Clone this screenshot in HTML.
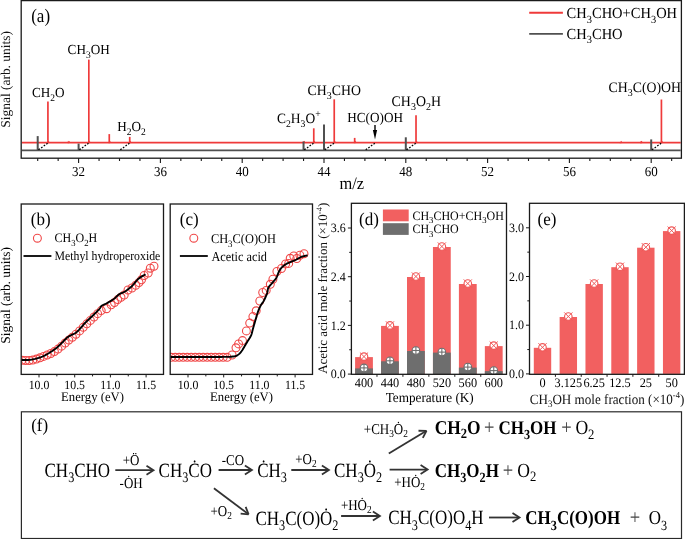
<!DOCTYPE html>
<html><head><meta charset="utf-8"><title>Figure</title>
<style>html,body{margin:0;padding:0;background:#fff;width:685px;height:539px;overflow:hidden}svg{display:block;will-change:transform;font-family:"Liberation Serif",serif;text-rendering:geometricPrecision}</style>
</head><body>
<svg width="685" height="539" viewBox="0 0 685 539" font-family="Liberation Serif, serif"><line x1="21.90" y1="142.70" x2="680.70" y2="142.70" stroke="#ef3a3a" stroke-width="1.8" />
<line x1="47.92" y1="143.20" x2="47.92" y2="101.40" stroke="#ef3a3a" stroke-width="1.7" />
<path d="M47.42,142.70 L48.42,140.70 L49.72,142.20 L50.72,142.70 Z" fill="#ef3a3a"/>
<line x1="68.38" y1="143.20" x2="68.38" y2="141.60" stroke="#ef3a3a" stroke-width="1.7" />
<path d="M67.88,142.70 L68.88,140.70 L70.17,142.20 L71.17,142.70 Z" fill="#ef3a3a"/>
<line x1="88.82" y1="143.20" x2="88.82" y2="59.60" stroke="#ef3a3a" stroke-width="1.7" />
<path d="M88.32,142.70 L89.32,140.70 L90.62,142.20 L91.62,142.70 Z" fill="#ef3a3a"/>
<line x1="109.27" y1="143.20" x2="109.27" y2="134.10" stroke="#ef3a3a" stroke-width="1.7" />
<path d="M108.77,142.70 L109.77,140.70 L111.07,142.20 L112.07,142.70 Z" fill="#ef3a3a"/>
<line x1="129.72" y1="143.20" x2="129.72" y2="136.90" stroke="#ef3a3a" stroke-width="1.7" />
<path d="M129.22,142.70 L130.22,140.70 L131.53,142.20 L132.53,142.70 Z" fill="#ef3a3a"/>
<line x1="303.55" y1="143.20" x2="303.55" y2="141.60" stroke="#ef3a3a" stroke-width="1.7" />
<path d="M303.05,142.70 L304.05,140.70 L305.35,142.20 L306.35,142.70 Z" fill="#ef3a3a"/>
<line x1="313.77" y1="143.20" x2="313.77" y2="128.30" stroke="#ef3a3a" stroke-width="1.7" />
<path d="M313.27,142.70 L314.27,140.70 L315.57,142.20 L316.57,142.70 Z" fill="#ef3a3a"/>
<line x1="334.23" y1="143.20" x2="334.23" y2="99.30" stroke="#ef3a3a" stroke-width="1.7" />
<path d="M333.73,142.70 L334.73,140.70 L336.03,142.20 L337.03,142.70 Z" fill="#ef3a3a"/>
<line x1="354.67" y1="143.20" x2="354.67" y2="137.90" stroke="#ef3a3a" stroke-width="1.7" />
<path d="M354.17,142.70 L355.17,140.70 L356.47,142.20 L357.47,142.70 Z" fill="#ef3a3a"/>
<line x1="416.02" y1="143.20" x2="416.02" y2="115.20" stroke="#ef3a3a" stroke-width="1.7" />
<path d="M415.52,142.70 L416.52,140.70 L417.82,142.20 L418.82,142.70 Z" fill="#ef3a3a"/>
<line x1="620.52" y1="143.20" x2="620.52" y2="142.00" stroke="#ef3a3a" stroke-width="1.7" />
<path d="M620.02,142.70 L621.02,140.70 L622.32,142.20 L623.32,142.70 Z" fill="#ef3a3a"/>
<line x1="640.98" y1="143.20" x2="640.98" y2="141.40" stroke="#ef3a3a" stroke-width="1.7" />
<path d="M640.48,142.70 L641.48,140.70 L642.77,142.20 L643.77,142.70 Z" fill="#ef3a3a"/>
<line x1="661.42" y1="143.20" x2="661.42" y2="99.50" stroke="#ef3a3a" stroke-width="1.7" />
<path d="M660.92,142.70 L661.92,140.70 L663.22,142.20 L664.22,142.70 Z" fill="#ef3a3a"/>
<line x1="21.90" y1="150.40" x2="680.70" y2="150.40" stroke="#505050" stroke-width="1.7" />
<line x1="37.70" y1="150.90" x2="37.70" y2="136.10" stroke="#505050" stroke-width="2.0" />
<path d="M37.20,150.40 L38.20,148.40 L39.50,149.90 L40.50,150.40 Z" fill="#505050"/>
<line x1="78.60" y1="150.90" x2="78.60" y2="143.60" stroke="#505050" stroke-width="2.0" />
<path d="M78.10,150.40 L79.10,148.40 L80.40,149.90 L81.40,150.40 Z" fill="#505050"/>
<line x1="303.55" y1="150.90" x2="303.55" y2="141.60" stroke="#505050" stroke-width="2.0" />
<path d="M303.05,150.40 L304.05,148.40 L305.35,149.90 L306.35,150.40 Z" fill="#505050"/>
<line x1="324.00" y1="150.90" x2="324.00" y2="124.40" stroke="#505050" stroke-width="2.0" />
<path d="M323.50,150.40 L324.50,148.40 L325.80,149.90 L326.80,150.40 Z" fill="#505050"/>
<line x1="405.80" y1="150.90" x2="405.80" y2="137.30" stroke="#505050" stroke-width="2.0" />
<path d="M405.30,150.40 L406.30,148.40 L407.60,149.90 L408.60,150.40 Z" fill="#505050"/>
<line x1="651.20" y1="150.90" x2="651.20" y2="139.40" stroke="#505050" stroke-width="2.0" />
<path d="M650.70,150.40 L651.70,148.40 L653.00,149.90 L654.00,150.40 Z" fill="#505050"/>
<line x1="38.50" y1="149.80" x2="47.62" y2="143.30" stroke="#000" stroke-width="1.25" stroke-dasharray="1.7,1.5"/>
<line x1="79.40" y1="149.80" x2="88.52" y2="143.30" stroke="#000" stroke-width="1.25" stroke-dasharray="1.7,1.5"/>
<line x1="120.30" y1="149.80" x2="129.42" y2="143.30" stroke="#000" stroke-width="1.25" stroke-dasharray="1.7,1.5"/>
<line x1="304.35" y1="149.80" x2="313.47" y2="143.30" stroke="#000" stroke-width="1.25" stroke-dasharray="1.7,1.5"/>
<line x1="324.80" y1="149.80" x2="333.93" y2="143.30" stroke="#000" stroke-width="1.25" stroke-dasharray="1.7,1.5"/>
<line x1="365.70" y1="149.80" x2="374.82" y2="143.30" stroke="#000" stroke-width="1.25" stroke-dasharray="1.7,1.5"/>
<line x1="406.60" y1="149.80" x2="415.72" y2="143.30" stroke="#000" stroke-width="1.25" stroke-dasharray="1.7,1.5"/>
<line x1="652.00" y1="149.80" x2="661.12" y2="143.30" stroke="#000" stroke-width="1.25" stroke-dasharray="1.7,1.5"/>
<rect x="21.20" y="0.60" width="660.20" height="157.60" fill="none" stroke="#1a1a1a" stroke-width="1.3"/>
<line x1="37.70" y1="158.20" x2="37.70" y2="161.00" stroke="#1a1a1a" stroke-width="1.1" />
<line x1="58.15" y1="158.20" x2="58.15" y2="161.00" stroke="#1a1a1a" stroke-width="1.1" />
<line x1="78.60" y1="158.20" x2="78.60" y2="163.00" stroke="#1a1a1a" stroke-width="1.1" />
<line x1="99.05" y1="158.20" x2="99.05" y2="161.00" stroke="#1a1a1a" stroke-width="1.1" />
<line x1="119.50" y1="158.20" x2="119.50" y2="161.00" stroke="#1a1a1a" stroke-width="1.1" />
<line x1="139.95" y1="158.20" x2="139.95" y2="161.00" stroke="#1a1a1a" stroke-width="1.1" />
<line x1="160.40" y1="158.20" x2="160.40" y2="163.00" stroke="#1a1a1a" stroke-width="1.1" />
<line x1="180.85" y1="158.20" x2="180.85" y2="161.00" stroke="#1a1a1a" stroke-width="1.1" />
<line x1="201.30" y1="158.20" x2="201.30" y2="161.00" stroke="#1a1a1a" stroke-width="1.1" />
<line x1="221.75" y1="158.20" x2="221.75" y2="161.00" stroke="#1a1a1a" stroke-width="1.1" />
<line x1="242.20" y1="158.20" x2="242.20" y2="163.00" stroke="#1a1a1a" stroke-width="1.1" />
<line x1="262.65" y1="158.20" x2="262.65" y2="161.00" stroke="#1a1a1a" stroke-width="1.1" />
<line x1="283.10" y1="158.20" x2="283.10" y2="161.00" stroke="#1a1a1a" stroke-width="1.1" />
<line x1="303.55" y1="158.20" x2="303.55" y2="161.00" stroke="#1a1a1a" stroke-width="1.1" />
<line x1="324.00" y1="158.20" x2="324.00" y2="163.00" stroke="#1a1a1a" stroke-width="1.1" />
<line x1="344.45" y1="158.20" x2="344.45" y2="161.00" stroke="#1a1a1a" stroke-width="1.1" />
<line x1="364.90" y1="158.20" x2="364.90" y2="161.00" stroke="#1a1a1a" stroke-width="1.1" />
<line x1="385.35" y1="158.20" x2="385.35" y2="161.00" stroke="#1a1a1a" stroke-width="1.1" />
<line x1="405.80" y1="158.20" x2="405.80" y2="163.00" stroke="#1a1a1a" stroke-width="1.1" />
<line x1="426.25" y1="158.20" x2="426.25" y2="161.00" stroke="#1a1a1a" stroke-width="1.1" />
<line x1="446.70" y1="158.20" x2="446.70" y2="161.00" stroke="#1a1a1a" stroke-width="1.1" />
<line x1="467.15" y1="158.20" x2="467.15" y2="161.00" stroke="#1a1a1a" stroke-width="1.1" />
<line x1="487.60" y1="158.20" x2="487.60" y2="163.00" stroke="#1a1a1a" stroke-width="1.1" />
<line x1="508.05" y1="158.20" x2="508.05" y2="161.00" stroke="#1a1a1a" stroke-width="1.1" />
<line x1="528.50" y1="158.20" x2="528.50" y2="161.00" stroke="#1a1a1a" stroke-width="1.1" />
<line x1="548.95" y1="158.20" x2="548.95" y2="161.00" stroke="#1a1a1a" stroke-width="1.1" />
<line x1="569.40" y1="158.20" x2="569.40" y2="163.00" stroke="#1a1a1a" stroke-width="1.1" />
<line x1="589.85" y1="158.20" x2="589.85" y2="161.00" stroke="#1a1a1a" stroke-width="1.1" />
<line x1="610.30" y1="158.20" x2="610.30" y2="161.00" stroke="#1a1a1a" stroke-width="1.1" />
<line x1="630.75" y1="158.20" x2="630.75" y2="161.00" stroke="#1a1a1a" stroke-width="1.1" />
<line x1="651.20" y1="158.20" x2="651.20" y2="163.00" stroke="#1a1a1a" stroke-width="1.1" />
<line x1="671.65" y1="158.20" x2="671.65" y2="161.00" stroke="#1a1a1a" stroke-width="1.1" />
<text transform="translate(78.60,175.80) scale(1.0,1.06)" font-size="13" font-weight="normal" text-anchor="middle" fill="#000" ><tspan>32</tspan></text>
<text transform="translate(160.40,175.80) scale(1.0,1.06)" font-size="13" font-weight="normal" text-anchor="middle" fill="#000" ><tspan>36</tspan></text>
<text transform="translate(242.20,175.80) scale(1.0,1.06)" font-size="13" font-weight="normal" text-anchor="middle" fill="#000" ><tspan>40</tspan></text>
<text transform="translate(324.00,175.80) scale(1.0,1.06)" font-size="13" font-weight="normal" text-anchor="middle" fill="#000" ><tspan>44</tspan></text>
<text transform="translate(405.80,175.80) scale(1.0,1.06)" font-size="13" font-weight="normal" text-anchor="middle" fill="#000" ><tspan>48</tspan></text>
<text transform="translate(487.60,175.80) scale(1.0,1.06)" font-size="13" font-weight="normal" text-anchor="middle" fill="#000" ><tspan>52</tspan></text>
<text transform="translate(569.40,175.80) scale(1.0,1.06)" font-size="13" font-weight="normal" text-anchor="middle" fill="#000" ><tspan>56</tspan></text>
<text transform="translate(651.20,175.80) scale(1.0,1.06)" font-size="13" font-weight="normal" text-anchor="middle" fill="#000" ><tspan>60</tspan></text>
<text transform="translate(351.80,188.50) scale(1.0,1.06)" font-size="16.4" font-weight="normal" text-anchor="middle" fill="#000" ><tspan>m/z</tspan></text>
<text transform="translate(10.0,79.4) rotate(-90)" font-size="13.45" text-anchor="middle" fill="#111">Signal (arb. units)</text>
<text transform="translate(31.20,22.40) scale(1.0,1.12)" font-size="17" font-weight="normal" text-anchor="start" fill="#000" ><tspan>(a)</tspan></text>
<line x1="529.20" y1="12.80" x2="562.90" y2="12.80" stroke="#ef3a3a" stroke-width="1.9" />
<line x1="529.20" y1="33.85" x2="562.90" y2="33.85" stroke="#505050" stroke-width="1.9" />
<text transform="translate(566.60,18.20) scale(1.0,1.06)" font-size="14.5" font-weight="normal" text-anchor="start" fill="#000" ><tspan>CH</tspan><tspan dy="4.06" font-size="10.44">3</tspan><tspan dy="-4.06">CHO+CH</tspan><tspan dy="4.06" font-size="10.44">3</tspan><tspan dy="-4.06">OH</tspan></text>
<text transform="translate(566.60,39.10) scale(1.0,1.06)" font-size="14.5" font-weight="normal" text-anchor="start" fill="#000" ><tspan>CH</tspan><tspan dy="4.06" font-size="10.44">3</tspan><tspan dy="-4.06">CHO</tspan></text>
<text transform="translate(32.00,97.00) scale(1.0,1.05)" font-size="13.2" font-weight="normal" text-anchor="start" fill="#000" ><tspan>CH</tspan><tspan dy="3.70" font-size="9.50">2</tspan><tspan dy="-3.70">O</tspan></text>
<text transform="translate(67.60,54.30) scale(1.0,1.05)" font-size="13.2" font-weight="normal" text-anchor="start" fill="#000" ><tspan>CH</tspan><tspan dy="3.70" font-size="9.50">3</tspan><tspan dy="-3.70">OH</tspan></text>
<text transform="translate(117.20,131.00) scale(1.0,1.05)" font-size="13.2" font-weight="normal" text-anchor="start" fill="#000" ><tspan>H</tspan><tspan dy="3.70" font-size="9.50">2</tspan><tspan dy="-3.70">O</tspan><tspan dy="3.70" font-size="9.50">2</tspan></text>
<text transform="translate(276.90,122.80) scale(1.0,1.05)" font-size="13.5" font-weight="normal" text-anchor="start" fill="#000" ><tspan>C</tspan><tspan dy="3.78" font-size="9.72">2</tspan><tspan dy="-3.78">H</tspan><tspan dy="3.78" font-size="9.72">3</tspan><tspan dy="-3.78">O</tspan><tspan dy="-5.67" font-size="9.72">+</tspan></text>
<text transform="translate(307.60,94.50) scale(1.0,1.05)" font-size="13.8" font-weight="normal" text-anchor="start" fill="#000" ><tspan>CH</tspan><tspan dy="3.86" font-size="9.94">3</tspan><tspan dy="-3.86">CHO</tspan></text>
<text transform="translate(347.30,121.70) scale(1.0,1.05)" font-size="13.2" font-weight="normal" text-anchor="start" fill="#000" ><tspan>HC(O)OH</tspan></text>
<text transform="translate(391.60,105.70) scale(1.0,1.05)" font-size="13.9" font-weight="normal" text-anchor="start" fill="#000" ><tspan>CH</tspan><tspan dy="3.89" font-size="10.01">3</tspan><tspan dy="-3.89">O</tspan><tspan dy="3.89" font-size="10.01">2</tspan><tspan dy="-3.89">H</tspan></text>
<text transform="translate(608.60,91.60) scale(1.0,1.05)" font-size="13.8" font-weight="normal" text-anchor="start" fill="#000" ><tspan>CH</tspan><tspan dy="3.86" font-size="9.94">3</tspan><tspan dy="-3.86">C(O)OH</tspan></text>
<line x1="375.00" y1="124.90" x2="375.00" y2="131.00" stroke="#000" stroke-width="1.4" />
<path d="M372.9,130 L377.1,130 L375,139.6 Z" fill="#000"/>
<clipPath id="clp1"><rect x="21.20" y="204.00" width="142.30" height="170.40"/></clipPath>
<g clip-path="url(#clp1)">
<circle cx="22.00" cy="360.30" r="3.95" fill="none" stroke="#f04848" stroke-width="1.1"/>
<circle cx="25.60" cy="360.45" r="3.95" fill="none" stroke="#f04848" stroke-width="1.1"/>
<circle cx="29.20" cy="360.47" r="3.95" fill="none" stroke="#f04848" stroke-width="1.1"/>
<circle cx="32.80" cy="360.04" r="3.95" fill="none" stroke="#f04848" stroke-width="1.1"/>
<circle cx="36.40" cy="359.07" r="3.95" fill="none" stroke="#f04848" stroke-width="1.1"/>
<circle cx="40.00" cy="357.81" r="3.95" fill="none" stroke="#f04848" stroke-width="1.1"/>
<circle cx="43.60" cy="356.42" r="3.95" fill="none" stroke="#f04848" stroke-width="1.1"/>
<circle cx="47.20" cy="355.02" r="3.95" fill="none" stroke="#f04848" stroke-width="1.1"/>
<circle cx="50.80" cy="353.48" r="3.95" fill="none" stroke="#f04848" stroke-width="1.1"/>
<circle cx="54.40" cy="351.56" r="3.95" fill="none" stroke="#f04848" stroke-width="1.1"/>
<circle cx="58.00" cy="349.07" r="3.95" fill="none" stroke="#f04848" stroke-width="1.1"/>
<circle cx="61.60" cy="346.13" r="3.95" fill="none" stroke="#f04848" stroke-width="1.1"/>
<circle cx="65.20" cy="343.05" r="3.95" fill="none" stroke="#f04848" stroke-width="1.1"/>
<circle cx="68.80" cy="340.11" r="3.95" fill="none" stroke="#f04848" stroke-width="1.1"/>
<circle cx="72.40" cy="337.22" r="3.95" fill="none" stroke="#f04848" stroke-width="1.1"/>
<circle cx="76.00" cy="334.21" r="3.95" fill="none" stroke="#f04848" stroke-width="1.1"/>
<circle cx="79.60" cy="330.91" r="3.95" fill="none" stroke="#f04848" stroke-width="1.1"/>
<circle cx="83.20" cy="327.36" r="3.95" fill="none" stroke="#f04848" stroke-width="1.1"/>
<circle cx="86.80" cy="323.87" r="3.95" fill="none" stroke="#f04848" stroke-width="1.1"/>
<circle cx="90.40" cy="320.42" r="3.95" fill="none" stroke="#f04848" stroke-width="1.1"/>
<circle cx="94.00" cy="317.04" r="3.95" fill="none" stroke="#f04848" stroke-width="1.1"/>
<circle cx="97.60" cy="313.65" r="3.95" fill="none" stroke="#f04848" stroke-width="1.1"/>
<circle cx="101.20" cy="310.56" r="3.95" fill="none" stroke="#f04848" stroke-width="1.1"/>
<circle cx="106.60" cy="308.70" r="3.95" fill="none" stroke="#f04848" stroke-width="1.1"/>
<circle cx="111.20" cy="304.80" r="3.95" fill="none" stroke="#f04848" stroke-width="1.1"/>
<circle cx="114.50" cy="302.50" r="3.95" fill="none" stroke="#f04848" stroke-width="1.1"/>
<circle cx="117.70" cy="299.60" r="3.95" fill="none" stroke="#f04848" stroke-width="1.1"/>
<circle cx="121.00" cy="297.30" r="3.95" fill="none" stroke="#f04848" stroke-width="1.1"/>
<circle cx="124.20" cy="295.00" r="3.95" fill="none" stroke="#f04848" stroke-width="1.1"/>
<circle cx="128.00" cy="290.00" r="3.95" fill="none" stroke="#f04848" stroke-width="1.1"/>
<circle cx="132.00" cy="288.00" r="3.95" fill="none" stroke="#f04848" stroke-width="1.1"/>
<circle cx="135.80" cy="285.30" r="3.95" fill="none" stroke="#f04848" stroke-width="1.1"/>
<circle cx="139.00" cy="282.50" r="3.95" fill="none" stroke="#f04848" stroke-width="1.1"/>
<circle cx="141.50" cy="279.80" r="3.95" fill="none" stroke="#f04848" stroke-width="1.1"/>
<circle cx="144.20" cy="275.50" r="3.95" fill="none" stroke="#f04848" stroke-width="1.1"/>
<circle cx="148.20" cy="273.00" r="3.95" fill="none" stroke="#f04848" stroke-width="1.1"/>
<circle cx="150.30" cy="268.20" r="3.95" fill="none" stroke="#f04848" stroke-width="1.1"/>
<circle cx="154.00" cy="266.20" r="3.95" fill="none" stroke="#f04848" stroke-width="1.1"/>
<path d="M21.50,360.00 L22.10,359.99 L22.86,360.00 L23.76,360.01 L24.77,360.02 L25.87,360.02 L27.02,360.00 L28.21,359.96 L29.40,359.88 L30.57,359.77 L31.70,359.60 L32.81,359.39 L33.95,359.15 L35.10,358.89 L36.28,358.59 L37.46,358.26 L38.66,357.90 L39.85,357.50 L41.04,357.07 L42.23,356.61 L43.40,356.10 L44.59,355.54 L45.80,354.91 L47.04,354.23 L48.28,353.51 L49.51,352.76 L50.72,352.00 L51.88,351.24 L53.00,350.50 L54.04,349.78 L55.00,349.10 L55.87,348.45 L56.66,347.83 L57.37,347.21 L58.04,346.60 L58.66,346.01 L59.26,345.41 L59.85,344.82 L60.44,344.22 L61.06,343.61 L61.70,343.00 L62.36,342.37 L63.00,341.73 L63.63,341.07 L64.26,340.41 L64.89,339.76 L65.54,339.11 L66.19,338.47 L66.87,337.85 L67.57,337.26 L68.30,336.70 L69.07,336.19 L69.87,335.74 L70.69,335.34 L71.54,334.95 L72.39,334.58 L73.26,334.18 L74.13,333.76 L75.00,333.28 L75.86,332.73 L76.70,332.10 L77.53,331.37 L78.36,330.55 L79.19,329.67 L80.02,328.73 L80.85,327.76 L81.68,326.78 L82.51,325.79 L83.34,324.82 L84.17,323.89 L85.00,323.00 L85.85,322.15 L86.72,321.29 L87.59,320.45 L88.48,319.62 L89.36,318.79 L90.22,317.99 L91.07,317.20 L91.88,316.44 L92.66,315.71 L93.40,315.00 L94.10,314.32 L94.78,313.66 L95.44,313.02 L96.07,312.41 L96.67,311.81 L97.24,311.24 L97.78,310.69 L98.29,310.17 L98.77,309.67 L99.20,309.20 L99.57,308.76 L99.87,308.35 L100.11,307.98 L100.32,307.62 L100.50,307.29 L100.68,306.98 L100.87,306.68 L101.09,306.38 L101.36,306.09 L101.70,305.80 L102.09,305.52 L102.51,305.27 L102.95,305.04 L103.42,304.82 L103.91,304.61 L104.43,304.39 L104.97,304.15 L105.53,303.90 L106.10,303.62 L106.70,303.30 L107.33,302.94 L108.02,302.56 L108.74,302.15 L109.48,301.72 L110.24,301.28 L111.00,300.83 L111.74,300.37 L112.47,299.91 L113.16,299.45 L113.80,299.00 L114.39,298.55 L114.94,298.08 L115.46,297.60 L115.95,297.11 L116.44,296.63 L116.92,296.15 L117.40,295.69 L117.91,295.24 L118.44,294.80 L119.00,294.40 L119.60,294.03 L120.22,293.70 L120.85,293.40 L121.51,293.12 L122.17,292.84 L122.84,292.56 L123.51,292.26 L124.18,291.95 L124.84,291.59 L125.50,291.20 L126.15,290.77 L126.80,290.32 L127.45,289.85 L128.10,289.36 L128.76,288.85 L129.41,288.32 L130.06,287.77 L130.71,287.20 L131.35,286.61 L132.00,286.00 L132.64,285.35 L133.28,284.64 L133.91,283.90 L134.53,283.13 L135.16,282.36 L135.79,281.58 L136.43,280.82 L137.08,280.10 L137.73,279.42 L138.40,278.80 L139.11,278.22 L139.89,277.66 L140.70,277.11 L141.53,276.59 L142.35,276.10 L143.14,275.65 L143.87,275.23 L144.52,274.87 L145.07,274.56 L145.50,274.30" fill="none" stroke="#000" stroke-width="1.9" stroke-linejoin="round"/>
</g>
<rect x="21.20" y="204.00" width="142.30" height="170.40" fill="none" stroke="#1a1a1a" stroke-width="1.3"/>
<line x1="39.00" y1="374.40" x2="39.00" y2="377.40" stroke="#1a1a1a" stroke-width="1.0" />
<line x1="56.85" y1="374.40" x2="56.85" y2="376.40" stroke="#1a1a1a" stroke-width="1.0" />
<line x1="74.70" y1="374.40" x2="74.70" y2="377.40" stroke="#1a1a1a" stroke-width="1.0" />
<line x1="92.55" y1="374.40" x2="92.55" y2="376.40" stroke="#1a1a1a" stroke-width="1.0" />
<line x1="110.40" y1="374.40" x2="110.40" y2="377.40" stroke="#1a1a1a" stroke-width="1.0" />
<line x1="128.25" y1="374.40" x2="128.25" y2="376.40" stroke="#1a1a1a" stroke-width="1.0" />
<line x1="146.10" y1="374.40" x2="146.10" y2="377.40" stroke="#1a1a1a" stroke-width="1.0" />
<text transform="translate(39.00,388.80) scale(1.0,1.06)" font-size="11.8" font-weight="normal" text-anchor="middle" fill="#000" ><tspan>10.0</tspan></text>
<text transform="translate(74.70,388.80) scale(1.0,1.06)" font-size="11.8" font-weight="normal" text-anchor="middle" fill="#000" ><tspan>10.5</tspan></text>
<text transform="translate(110.40,388.80) scale(1.0,1.06)" font-size="11.8" font-weight="normal" text-anchor="middle" fill="#000" ><tspan>11.0</tspan></text>
<text transform="translate(146.10,388.80) scale(1.0,1.06)" font-size="11.8" font-weight="normal" text-anchor="middle" fill="#000" ><tspan>11.5</tspan></text>
<text transform="translate(92.50,401.00) scale(1.0,1.03)" font-size="12.7" font-weight="normal" text-anchor="middle" fill="#000" ><tspan>Energy (eV)</tspan></text>
<text transform="translate(30.80,224.60) scale(1.0,1.07)" font-size="17" font-weight="normal" text-anchor="start" fill="#000" ><tspan>(b)</tspan></text>
<circle cx="37.40" cy="238.2" r="3.95" fill="none" stroke="#f04848" stroke-width="1.1"/>
<text transform="translate(54.50,242.40) scale(1.0,1.08)" font-size="12" font-weight="normal" text-anchor="start" fill="#000" ><tspan>CH</tspan><tspan dy="3.36" font-size="8.64">3</tspan><tspan dy="-3.36">O</tspan><tspan dy="3.36" font-size="8.64">2</tspan><tspan dy="-3.36">H</tspan></text>
<line x1="23.50" y1="256.00" x2="51.40" y2="256.00" stroke="#000" stroke-width="1.8" />
<text transform="translate(54.50,260.20) scale(1.0,1.1)" font-size="11.8" font-weight="normal" text-anchor="start" fill="#000" ><tspan>Methyl hydroperoxide</tspan></text>
<clipPath id="clp2"><rect x="170.20" y="204.00" width="142.30" height="170.40"/></clipPath>
<g clip-path="url(#clp2)">
<circle cx="171.20" cy="357.35" r="3.95" fill="none" stroke="#f04848" stroke-width="1.1"/>
<circle cx="175.20" cy="357.35" r="3.95" fill="none" stroke="#f04848" stroke-width="1.1"/>
<circle cx="179.20" cy="357.35" r="3.95" fill="none" stroke="#f04848" stroke-width="1.1"/>
<circle cx="183.20" cy="357.35" r="3.95" fill="none" stroke="#f04848" stroke-width="1.1"/>
<circle cx="187.20" cy="357.35" r="3.95" fill="none" stroke="#f04848" stroke-width="1.1"/>
<circle cx="191.20" cy="357.35" r="3.95" fill="none" stroke="#f04848" stroke-width="1.1"/>
<circle cx="195.20" cy="357.35" r="3.95" fill="none" stroke="#f04848" stroke-width="1.1"/>
<circle cx="199.20" cy="357.35" r="3.95" fill="none" stroke="#f04848" stroke-width="1.1"/>
<circle cx="203.20" cy="357.35" r="3.95" fill="none" stroke="#f04848" stroke-width="1.1"/>
<circle cx="207.20" cy="357.35" r="3.95" fill="none" stroke="#f04848" stroke-width="1.1"/>
<circle cx="211.20" cy="357.35" r="3.95" fill="none" stroke="#f04848" stroke-width="1.1"/>
<circle cx="215.20" cy="357.35" r="3.95" fill="none" stroke="#f04848" stroke-width="1.1"/>
<circle cx="219.20" cy="357.35" r="3.95" fill="none" stroke="#f04848" stroke-width="1.1"/>
<circle cx="223.20" cy="357.35" r="3.95" fill="none" stroke="#f04848" stroke-width="1.1"/>
<circle cx="227.20" cy="357.35" r="3.95" fill="none" stroke="#f04848" stroke-width="1.1"/>
<circle cx="232.10" cy="355.00" r="3.95" fill="none" stroke="#f04848" stroke-width="1.1"/>
<circle cx="236.00" cy="347.80" r="3.95" fill="none" stroke="#f04848" stroke-width="1.1"/>
<circle cx="238.60" cy="343.90" r="3.95" fill="none" stroke="#f04848" stroke-width="1.1"/>
<circle cx="242.50" cy="340.60" r="3.95" fill="none" stroke="#f04848" stroke-width="1.1"/>
<circle cx="246.40" cy="330.90" r="3.95" fill="none" stroke="#f04848" stroke-width="1.1"/>
<circle cx="249.70" cy="323.10" r="3.95" fill="none" stroke="#f04848" stroke-width="1.1"/>
<circle cx="252.90" cy="316.60" r="3.95" fill="none" stroke="#f04848" stroke-width="1.1"/>
<circle cx="256.20" cy="310.80" r="3.95" fill="none" stroke="#f04848" stroke-width="1.1"/>
<circle cx="259.80" cy="301.00" r="3.95" fill="none" stroke="#f04848" stroke-width="1.1"/>
<circle cx="262.70" cy="292.50" r="3.95" fill="none" stroke="#f04848" stroke-width="1.1"/>
<circle cx="266.20" cy="290.40" r="3.95" fill="none" stroke="#f04848" stroke-width="1.1"/>
<circle cx="270.30" cy="284.30" r="3.95" fill="none" stroke="#f04848" stroke-width="1.1"/>
<circle cx="272.90" cy="279.20" r="3.95" fill="none" stroke="#f04848" stroke-width="1.1"/>
<circle cx="276.90" cy="271.50" r="3.95" fill="none" stroke="#f04848" stroke-width="1.1"/>
<circle cx="281.50" cy="268.50" r="3.95" fill="none" stroke="#f04848" stroke-width="1.1"/>
<circle cx="285.60" cy="263.90" r="3.95" fill="none" stroke="#f04848" stroke-width="1.1"/>
<circle cx="288.70" cy="263.40" r="3.95" fill="none" stroke="#f04848" stroke-width="1.1"/>
<circle cx="290.20" cy="258.30" r="3.95" fill="none" stroke="#f04848" stroke-width="1.1"/>
<circle cx="293.80" cy="256.00" r="3.95" fill="none" stroke="#f04848" stroke-width="1.1"/>
<circle cx="296.80" cy="258.50" r="3.95" fill="none" stroke="#f04848" stroke-width="1.1"/>
<circle cx="299.90" cy="255.20" r="3.95" fill="none" stroke="#f04848" stroke-width="1.1"/>
<circle cx="304.00" cy="253.70" r="3.95" fill="none" stroke="#f04848" stroke-width="1.1"/>
<path d="M170.50,357.00 L172.28,357.00 L174.58,357.00 L177.32,357.00 L180.39,357.00 L183.69,357.01 L187.11,357.01 L190.55,357.01 L193.92,357.01 L197.10,357.00 L200.00,357.00 L202.76,356.99 L205.58,356.99 L208.40,356.98 L211.19,356.98 L213.91,356.97 L216.51,356.96 L218.96,356.95 L221.22,356.93 L223.25,356.92 L225.00,356.90 L226.44,356.88 L227.59,356.86 L228.50,356.85 L229.21,356.83 L229.77,356.81 L230.23,356.78 L230.64,356.75 L231.04,356.71 L231.47,356.66 L232.00,356.60 L232.56,356.54 L233.09,356.49 L233.59,356.44 L234.06,356.39 L234.51,356.33 L234.94,356.24 L235.38,356.14 L235.81,356.00 L236.25,355.82 L236.70,355.60 L237.15,355.35 L237.60,355.08 L238.04,354.79 L238.48,354.47 L238.92,354.12 L239.36,353.73 L239.80,353.30 L240.26,352.82 L240.72,352.29 L241.20,351.70 L241.69,351.03 L242.20,350.28 L242.73,349.46 L243.26,348.59 L243.79,347.69 L244.33,346.76 L244.86,345.84 L245.39,344.92 L245.90,344.04 L246.40,343.20 L246.90,342.39 L247.40,341.59 L247.91,340.79 L248.41,340.00 L248.91,339.22 L249.38,338.46 L249.84,337.70 L250.26,336.95 L250.65,336.22 L251.00,335.50 L251.30,334.81 L251.54,334.16 L251.75,333.54 L251.92,332.94 L252.08,332.34 L252.22,331.73 L252.36,331.10 L252.52,330.45 L252.69,329.75 L252.90,329.00 L253.13,328.19 L253.38,327.34 L253.63,326.44 L253.89,325.52 L254.16,324.57 L254.43,323.62 L254.70,322.67 L254.97,321.72 L255.24,320.80 L255.50,319.90 L255.76,319.01 L256.02,318.12 L256.28,317.22 L256.54,316.33 L256.80,315.44 L257.06,314.58 L257.32,313.73 L257.58,312.92 L257.84,312.14 L258.10,311.40 L258.36,310.71 L258.61,310.06 L258.86,309.44 L259.11,308.86 L259.36,308.29 L259.61,307.75 L259.87,307.21 L260.14,306.68 L260.41,306.14 L260.70,305.60 L261.00,305.07 L261.32,304.56 L261.64,304.07 L261.97,303.58 L262.31,303.10 L262.65,302.61 L263.00,302.10 L263.34,301.57 L263.67,301.01 L264.00,300.40 L264.33,299.74 L264.68,299.02 L265.03,298.27 L265.39,297.49 L265.74,296.69 L266.08,295.90 L266.40,295.12 L266.70,294.37 L266.97,293.66 L267.20,293.00 L267.38,292.40 L267.51,291.83 L267.59,291.30 L267.65,290.79 L267.70,290.31 L267.75,289.83 L267.82,289.36 L267.93,288.88 L268.08,288.40 L268.30,287.90 L268.58,287.39 L268.91,286.88 L269.28,286.37 L269.69,285.86 L270.11,285.35 L270.55,284.84 L271.00,284.33 L271.45,283.82 L271.88,283.31 L272.30,282.80 L272.71,282.30 L273.13,281.81 L273.55,281.34 L273.98,280.86 L274.41,280.38 L274.83,279.89 L275.24,279.38 L275.64,278.85 L276.03,278.30 L276.40,277.70 L276.74,277.06 L277.06,276.36 L277.36,275.63 L277.64,274.87 L277.92,274.10 L278.20,273.33 L278.49,272.57 L278.80,271.84 L279.13,271.14 L279.50,270.50 L279.89,269.90 L280.31,269.31 L280.74,268.75 L281.18,268.21 L281.64,267.69 L282.12,267.20 L282.60,266.72 L283.09,266.26 L283.59,265.82 L284.10,265.40 L284.62,265.01 L285.15,264.64 L285.69,264.30 L286.24,263.99 L286.81,263.69 L287.38,263.40 L287.95,263.12 L288.53,262.85 L289.12,262.58 L289.70,262.30 L290.29,262.03 L290.89,261.77 L291.49,261.52 L292.10,261.29 L292.72,261.05 L293.34,260.81 L293.95,260.58 L294.57,260.33 L295.19,260.07 L295.80,259.80 L296.41,259.51 L297.03,259.19 L297.64,258.86 L298.26,258.52 L298.88,258.18 L299.49,257.84 L300.10,257.52 L300.71,257.21 L301.31,256.94 L301.90,256.70 L302.51,256.49 L303.16,256.30 L303.82,256.14 L304.48,255.99 L305.13,255.86 L305.75,255.74 L306.32,255.64 L306.83,255.55 L307.26,255.47 L307.60,255.40" fill="none" stroke="#000" stroke-width="1.9" stroke-linejoin="round"/>
</g>
<rect x="170.20" y="204.00" width="142.30" height="170.40" fill="none" stroke="#1a1a1a" stroke-width="1.3"/>
<line x1="188.00" y1="374.40" x2="188.00" y2="377.40" stroke="#1a1a1a" stroke-width="1.0" />
<line x1="205.85" y1="374.40" x2="205.85" y2="376.40" stroke="#1a1a1a" stroke-width="1.0" />
<line x1="223.70" y1="374.40" x2="223.70" y2="377.40" stroke="#1a1a1a" stroke-width="1.0" />
<line x1="241.55" y1="374.40" x2="241.55" y2="376.40" stroke="#1a1a1a" stroke-width="1.0" />
<line x1="259.40" y1="374.40" x2="259.40" y2="377.40" stroke="#1a1a1a" stroke-width="1.0" />
<line x1="277.25" y1="374.40" x2="277.25" y2="376.40" stroke="#1a1a1a" stroke-width="1.0" />
<line x1="295.10" y1="374.40" x2="295.10" y2="377.40" stroke="#1a1a1a" stroke-width="1.0" />
<text transform="translate(188.00,388.80) scale(1.0,1.06)" font-size="11.8" font-weight="normal" text-anchor="middle" fill="#000" ><tspan>10.0</tspan></text>
<text transform="translate(223.70,388.80) scale(1.0,1.06)" font-size="11.8" font-weight="normal" text-anchor="middle" fill="#000" ><tspan>10.5</tspan></text>
<text transform="translate(259.40,388.80) scale(1.0,1.06)" font-size="11.8" font-weight="normal" text-anchor="middle" fill="#000" ><tspan>11.0</tspan></text>
<text transform="translate(295.10,388.80) scale(1.0,1.06)" font-size="11.8" font-weight="normal" text-anchor="middle" fill="#000" ><tspan>11.5</tspan></text>
<text transform="translate(241.50,401.00) scale(1.0,1.03)" font-size="12.7" font-weight="normal" text-anchor="middle" fill="#000" ><tspan>Energy (eV)</tspan></text>
<text transform="translate(179.80,224.60) scale(1.0,1.07)" font-size="17" font-weight="normal" text-anchor="start" fill="#000" ><tspan>(c)</tspan></text>
<circle cx="193.80" cy="238.2" r="3.95" fill="none" stroke="#f04848" stroke-width="1.1"/>
<text transform="translate(210.90,243.00) scale(1.0,1.08)" font-size="12.4" font-weight="normal" text-anchor="start" fill="#000" ><tspan>CH</tspan><tspan dy="3.47" font-size="8.93">3</tspan><tspan dy="-3.47">C(O)OH</tspan></text>
<line x1="179.90" y1="256.00" x2="207.80" y2="256.00" stroke="#000" stroke-width="1.8" />
<text transform="translate(211.38,260.80) scale(1.0,1.1)" font-size="12.3" font-weight="normal" text-anchor="start" fill="#000" ><tspan>Acetic acid</tspan></text>
<text transform="translate(10.0,295.4) rotate(-90)" font-size="13.45" text-anchor="middle" fill="#000">Signal (arb. units)</text>
<rect x="355.10" y="357.10" width="17.80" height="17.00" fill="#f26060" stroke="none" stroke-width="1"/>
<rect x="355.10" y="368.40" width="17.80" height="5.70" fill="#6e6e6e" stroke="none" stroke-width="1"/>
<rect x="381.05" y="325.90" width="17.80" height="48.20" fill="#f26060" stroke="none" stroke-width="1"/>
<rect x="381.05" y="361.30" width="17.80" height="12.80" fill="#6e6e6e" stroke="none" stroke-width="1"/>
<rect x="407.00" y="277.00" width="17.80" height="97.10" fill="#f26060" stroke="none" stroke-width="1"/>
<rect x="407.00" y="351.00" width="17.80" height="23.10" fill="#6e6e6e" stroke="none" stroke-width="1"/>
<rect x="432.95" y="247.00" width="17.80" height="127.10" fill="#f26060" stroke="none" stroke-width="1"/>
<rect x="432.95" y="352.60" width="17.80" height="21.50" fill="#6e6e6e" stroke="none" stroke-width="1"/>
<rect x="458.90" y="284.00" width="17.80" height="90.10" fill="#f26060" stroke="none" stroke-width="1"/>
<rect x="458.90" y="367.60" width="17.80" height="6.50" fill="#6e6e6e" stroke="none" stroke-width="1"/>
<rect x="484.85" y="346.10" width="17.80" height="28.00" fill="#f26060" stroke="none" stroke-width="1"/>
<rect x="484.85" y="371.10" width="17.80" height="3.00" fill="#6e6e6e" stroke="none" stroke-width="1"/>
<circle cx="364.00" cy="356.60" r="3.75" fill="#fff" stroke="#f05858" stroke-width="1.15"/>
<line x1="359.90" y1="352.50" x2="368.10" y2="360.70" stroke="#f05858" stroke-width="1.0" />
<line x1="359.90" y1="360.70" x2="368.10" y2="352.50" stroke="#f05858" stroke-width="1.0" />
<circle cx="364.00" cy="367.90" r="3.8" fill="#fff" stroke="#6e6e6e" stroke-width="1.1"/>
<line x1="360.20" y1="367.90" x2="367.80" y2="367.90" stroke="#6e6e6e" stroke-width="1.1" />
<line x1="364.00" y1="364.10" x2="364.00" y2="371.70" stroke="#6e6e6e" stroke-width="1.1" />
<circle cx="389.95" cy="325.40" r="3.75" fill="#fff" stroke="#f05858" stroke-width="1.15"/>
<line x1="385.85" y1="321.30" x2="394.05" y2="329.50" stroke="#f05858" stroke-width="1.0" />
<line x1="385.85" y1="329.50" x2="394.05" y2="321.30" stroke="#f05858" stroke-width="1.0" />
<circle cx="389.95" cy="360.80" r="3.8" fill="#fff" stroke="#6e6e6e" stroke-width="1.1"/>
<line x1="386.15" y1="360.80" x2="393.75" y2="360.80" stroke="#6e6e6e" stroke-width="1.1" />
<line x1="389.95" y1="357.00" x2="389.95" y2="364.60" stroke="#6e6e6e" stroke-width="1.1" />
<circle cx="415.90" cy="276.50" r="3.75" fill="#fff" stroke="#f05858" stroke-width="1.15"/>
<line x1="411.80" y1="272.40" x2="420.00" y2="280.60" stroke="#f05858" stroke-width="1.0" />
<line x1="411.80" y1="280.60" x2="420.00" y2="272.40" stroke="#f05858" stroke-width="1.0" />
<circle cx="415.90" cy="350.50" r="3.8" fill="#fff" stroke="#6e6e6e" stroke-width="1.1"/>
<line x1="412.10" y1="350.50" x2="419.70" y2="350.50" stroke="#6e6e6e" stroke-width="1.1" />
<line x1="415.90" y1="346.70" x2="415.90" y2="354.30" stroke="#6e6e6e" stroke-width="1.1" />
<circle cx="441.85" cy="246.50" r="3.75" fill="#fff" stroke="#f05858" stroke-width="1.15"/>
<line x1="437.75" y1="242.40" x2="445.95" y2="250.60" stroke="#f05858" stroke-width="1.0" />
<line x1="437.75" y1="250.60" x2="445.95" y2="242.40" stroke="#f05858" stroke-width="1.0" />
<circle cx="441.85" cy="352.10" r="3.8" fill="#fff" stroke="#6e6e6e" stroke-width="1.1"/>
<line x1="438.05" y1="352.10" x2="445.65" y2="352.10" stroke="#6e6e6e" stroke-width="1.1" />
<line x1="441.85" y1="348.30" x2="441.85" y2="355.90" stroke="#6e6e6e" stroke-width="1.1" />
<circle cx="467.80" cy="283.50" r="3.75" fill="#fff" stroke="#f05858" stroke-width="1.15"/>
<line x1="463.70" y1="279.40" x2="471.90" y2="287.60" stroke="#f05858" stroke-width="1.0" />
<line x1="463.70" y1="287.60" x2="471.90" y2="279.40" stroke="#f05858" stroke-width="1.0" />
<circle cx="467.80" cy="367.10" r="3.8" fill="#fff" stroke="#6e6e6e" stroke-width="1.1"/>
<line x1="464.00" y1="367.10" x2="471.60" y2="367.10" stroke="#6e6e6e" stroke-width="1.1" />
<line x1="467.80" y1="363.30" x2="467.80" y2="370.90" stroke="#6e6e6e" stroke-width="1.1" />
<circle cx="493.75" cy="345.60" r="3.75" fill="#fff" stroke="#f05858" stroke-width="1.15"/>
<line x1="489.65" y1="341.50" x2="497.85" y2="349.70" stroke="#f05858" stroke-width="1.0" />
<line x1="489.65" y1="349.70" x2="497.85" y2="341.50" stroke="#f05858" stroke-width="1.0" />
<circle cx="493.75" cy="370.60" r="3.8" fill="#fff" stroke="#6e6e6e" stroke-width="1.1"/>
<line x1="489.95" y1="370.60" x2="497.55" y2="370.60" stroke="#6e6e6e" stroke-width="1.1" />
<line x1="493.75" y1="366.80" x2="493.75" y2="374.40" stroke="#6e6e6e" stroke-width="1.1" />
<rect x="351.40" y="203.30" width="155.10" height="171.00" fill="none" stroke="#1a1a1a" stroke-width="1.3"/>
<line x1="347.90" y1="374.10" x2="351.40" y2="374.10" stroke="#1a1a1a" stroke-width="1.0" />
<text transform="translate(345.80,378.30) scale(1.0,1.06)" font-size="12" font-weight="normal" text-anchor="end" fill="#000" ><tspan>0.0</tspan></text>
<line x1="347.90" y1="325.40" x2="351.40" y2="325.40" stroke="#1a1a1a" stroke-width="1.0" />
<text transform="translate(345.80,329.60) scale(1.0,1.06)" font-size="12" font-weight="normal" text-anchor="end" fill="#000" ><tspan>1.2</tspan></text>
<line x1="347.90" y1="276.70" x2="351.40" y2="276.70" stroke="#1a1a1a" stroke-width="1.0" />
<text transform="translate(345.80,280.90) scale(1.0,1.06)" font-size="12" font-weight="normal" text-anchor="end" fill="#000" ><tspan>2.4</tspan></text>
<line x1="347.90" y1="228.00" x2="351.40" y2="228.00" stroke="#1a1a1a" stroke-width="1.0" />
<text transform="translate(345.80,232.20) scale(1.0,1.06)" font-size="12" font-weight="normal" text-anchor="end" fill="#000" ><tspan>3.6</tspan></text>
<line x1="349.20" y1="349.75" x2="351.40" y2="349.75" stroke="#1a1a1a" stroke-width="1.0" />
<line x1="349.20" y1="301.05" x2="351.40" y2="301.05" stroke="#1a1a1a" stroke-width="1.0" />
<line x1="349.20" y1="252.35" x2="351.40" y2="252.35" stroke="#1a1a1a" stroke-width="1.0" />
<line x1="376.97" y1="374.30" x2="376.97" y2="376.80" stroke="#1a1a1a" stroke-width="1.0" />
<line x1="402.92" y1="374.30" x2="402.92" y2="376.80" stroke="#1a1a1a" stroke-width="1.0" />
<line x1="428.87" y1="374.30" x2="428.87" y2="376.80" stroke="#1a1a1a" stroke-width="1.0" />
<line x1="454.82" y1="374.30" x2="454.82" y2="376.80" stroke="#1a1a1a" stroke-width="1.0" />
<line x1="480.77" y1="374.30" x2="480.77" y2="376.80" stroke="#1a1a1a" stroke-width="1.0" />
<text transform="translate(364.00,387.00) scale(1.0,1.06)" font-size="12.3" font-weight="normal" text-anchor="middle" fill="#000" ><tspan>400</tspan></text>
<text transform="translate(389.95,387.00) scale(1.0,1.06)" font-size="12.3" font-weight="normal" text-anchor="middle" fill="#000" ><tspan>440</tspan></text>
<text transform="translate(415.90,387.00) scale(1.0,1.06)" font-size="12.3" font-weight="normal" text-anchor="middle" fill="#000" ><tspan>480</tspan></text>
<text transform="translate(441.85,387.00) scale(1.0,1.06)" font-size="12.3" font-weight="normal" text-anchor="middle" fill="#000" ><tspan>520</tspan></text>
<text transform="translate(467.80,387.00) scale(1.0,1.06)" font-size="12.3" font-weight="normal" text-anchor="middle" fill="#000" ><tspan>560</tspan></text>
<text transform="translate(493.75,387.00) scale(1.0,1.06)" font-size="12.3" font-weight="normal" text-anchor="middle" fill="#000" ><tspan>600</tspan></text>
<text transform="translate(429.70,402.10) scale(1.0,1.04)" font-size="13.2" font-weight="normal" text-anchor="middle" fill="#000" ><tspan>Temperature (K)</tspan></text>
<text transform="translate(359.00,225.20) scale(1.0,1.07)" font-size="17" font-weight="normal" text-anchor="start" fill="#000" ><tspan>(d)</tspan></text>
<rect x="382.90" y="209.50" width="25.80" height="11.80" fill="#f26060" stroke="none" stroke-width="1"/>
<rect x="382.90" y="223.20" width="25.80" height="11.70" fill="#6e6e6e" stroke="none" stroke-width="1"/>
<text transform="translate(412.40,219.60) scale(1.0,1.06)" font-size="12" font-weight="normal" text-anchor="start" fill="#000" ><tspan>CH</tspan><tspan dy="3.36" font-size="8.64">3</tspan><tspan dy="-3.36">CHO+CH</tspan><tspan dy="3.36" font-size="8.64">3</tspan><tspan dy="-3.36">OH</tspan></text>
<text transform="translate(412.40,233.40) scale(1.0,1.06)" font-size="12" font-weight="normal" text-anchor="start" fill="#000" ><tspan>CH</tspan><tspan dy="3.36" font-size="8.64">3</tspan><tspan dy="-3.36">CHO</tspan></text>
<text transform="translate(326.8,288.3) rotate(-90)" font-size="13" text-anchor="middle" fill="#111">Acetic acid mole fraction (×10<tspan dy="-4.5" font-size="8.5">-4</tspan><tspan dy="4.5">)</tspan></text>
<rect x="533.80" y="347.80" width="17.40" height="26.10" fill="#f26060" stroke="none" stroke-width="1"/>
<rect x="559.63" y="317.00" width="17.40" height="56.90" fill="#f26060" stroke="none" stroke-width="1"/>
<rect x="585.46" y="284.00" width="17.40" height="89.90" fill="#f26060" stroke="none" stroke-width="1"/>
<rect x="611.29" y="267.20" width="17.40" height="106.70" fill="#f26060" stroke="none" stroke-width="1"/>
<rect x="637.12" y="247.70" width="17.40" height="126.20" fill="#f26060" stroke="none" stroke-width="1"/>
<rect x="662.95" y="231.10" width="17.40" height="142.80" fill="#f26060" stroke="none" stroke-width="1"/>
<circle cx="542.50" cy="347.30" r="3.75" fill="#fff" stroke="#f05858" stroke-width="1.15"/>
<line x1="538.40" y1="343.20" x2="546.60" y2="351.40" stroke="#f05858" stroke-width="1.0" />
<line x1="538.40" y1="351.40" x2="546.60" y2="343.20" stroke="#f05858" stroke-width="1.0" />
<circle cx="568.33" cy="316.50" r="3.75" fill="#fff" stroke="#f05858" stroke-width="1.15"/>
<line x1="564.23" y1="312.40" x2="572.43" y2="320.60" stroke="#f05858" stroke-width="1.0" />
<line x1="564.23" y1="320.60" x2="572.43" y2="312.40" stroke="#f05858" stroke-width="1.0" />
<circle cx="594.16" cy="283.50" r="3.75" fill="#fff" stroke="#f05858" stroke-width="1.15"/>
<line x1="590.06" y1="279.40" x2="598.26" y2="287.60" stroke="#f05858" stroke-width="1.0" />
<line x1="590.06" y1="287.60" x2="598.26" y2="279.40" stroke="#f05858" stroke-width="1.0" />
<circle cx="619.99" cy="266.70" r="3.75" fill="#fff" stroke="#f05858" stroke-width="1.15"/>
<line x1="615.89" y1="262.60" x2="624.09" y2="270.80" stroke="#f05858" stroke-width="1.0" />
<line x1="615.89" y1="270.80" x2="624.09" y2="262.60" stroke="#f05858" stroke-width="1.0" />
<circle cx="645.82" cy="247.20" r="3.75" fill="#fff" stroke="#f05858" stroke-width="1.15"/>
<line x1="641.72" y1="243.10" x2="649.92" y2="251.30" stroke="#f05858" stroke-width="1.0" />
<line x1="641.72" y1="251.30" x2="649.92" y2="243.10" stroke="#f05858" stroke-width="1.0" />
<circle cx="671.65" cy="230.60" r="3.75" fill="#fff" stroke="#f05858" stroke-width="1.15"/>
<line x1="667.55" y1="226.50" x2="675.75" y2="234.70" stroke="#f05858" stroke-width="1.0" />
<line x1="667.55" y1="234.70" x2="675.75" y2="226.50" stroke="#f05858" stroke-width="1.0" />
<rect x="529.50" y="203.30" width="154.90" height="171.00" fill="none" stroke="#1a1a1a" stroke-width="1.3"/>
<line x1="526.00" y1="373.90" x2="529.50" y2="373.90" stroke="#1a1a1a" stroke-width="1.0" />
<text transform="translate(523.90,378.10) scale(1.0,1.06)" font-size="12" font-weight="normal" text-anchor="end" fill="#000" ><tspan>0.0</tspan></text>
<line x1="526.00" y1="325.20" x2="529.50" y2="325.20" stroke="#1a1a1a" stroke-width="1.0" />
<text transform="translate(523.90,329.40) scale(1.0,1.06)" font-size="12" font-weight="normal" text-anchor="end" fill="#000" ><tspan>1.0</tspan></text>
<line x1="526.00" y1="276.50" x2="529.50" y2="276.50" stroke="#1a1a1a" stroke-width="1.0" />
<text transform="translate(523.90,280.70) scale(1.0,1.06)" font-size="12" font-weight="normal" text-anchor="end" fill="#000" ><tspan>2.0</tspan></text>
<line x1="526.00" y1="227.80" x2="529.50" y2="227.80" stroke="#1a1a1a" stroke-width="1.0" />
<text transform="translate(523.90,232.00) scale(1.0,1.06)" font-size="12" font-weight="normal" text-anchor="end" fill="#000" ><tspan>3.0</tspan></text>
<line x1="527.30" y1="349.55" x2="529.50" y2="349.55" stroke="#1a1a1a" stroke-width="1.0" />
<line x1="527.30" y1="300.85" x2="529.50" y2="300.85" stroke="#1a1a1a" stroke-width="1.0" />
<line x1="527.30" y1="252.15" x2="529.50" y2="252.15" stroke="#1a1a1a" stroke-width="1.0" />
<line x1="555.40" y1="374.30" x2="555.40" y2="376.80" stroke="#1a1a1a" stroke-width="1.0" />
<line x1="581.23" y1="374.30" x2="581.23" y2="376.80" stroke="#1a1a1a" stroke-width="1.0" />
<line x1="607.06" y1="374.30" x2="607.06" y2="376.80" stroke="#1a1a1a" stroke-width="1.0" />
<line x1="632.89" y1="374.30" x2="632.89" y2="376.80" stroke="#1a1a1a" stroke-width="1.0" />
<line x1="658.72" y1="374.30" x2="658.72" y2="376.80" stroke="#1a1a1a" stroke-width="1.0" />
<text transform="translate(542.50,387.00) scale(1.0,1.06)" font-size="12.3" font-weight="normal" text-anchor="middle" fill="#000" ><tspan>0</tspan></text>
<text transform="translate(568.33,387.00) scale(1.0,1.06)" font-size="12.3" font-weight="normal" text-anchor="middle" fill="#000" ><tspan>3.125</tspan></text>
<text transform="translate(594.16,387.00) scale(1.0,1.06)" font-size="12.3" font-weight="normal" text-anchor="middle" fill="#000" ><tspan>6.25</tspan></text>
<text transform="translate(619.99,387.00) scale(1.0,1.06)" font-size="12.3" font-weight="normal" text-anchor="middle" fill="#000" ><tspan>12.5</tspan></text>
<text transform="translate(645.82,387.00) scale(1.0,1.06)" font-size="12.3" font-weight="normal" text-anchor="middle" fill="#000" ><tspan>25</tspan></text>
<text transform="translate(671.65,387.00) scale(1.0,1.06)" font-size="12.3" font-weight="normal" text-anchor="middle" fill="#000" ><tspan>50</tspan></text>
<text transform="translate(537.50,224.90) scale(1.0,1.07)" font-size="17" font-weight="normal" text-anchor="start" fill="#000" ><tspan>(e)</tspan></text>
<text transform="translate(529.7,403.5) scale(1,1.08)" font-size="13.1" fill="#111">CH<tspan dy="3.5" font-size="9">3</tspan><tspan dy="-3.5">OH mole fraction (×10</tspan><tspan dy="-5.3" font-size="8.5">-4</tspan><tspan dy="5.3">)</tspan></text>
<rect x="21.40" y="411.80" width="660.10" height="126.70" fill="none" stroke="#2a2a2a" stroke-width="1.2"/>
<text transform="translate(31.20,430.80) scale(1.0,1.07)" font-size="17" font-weight="normal" text-anchor="start" fill="#000" ><tspan>(f)</tspan></text>
<text transform="translate(44.50,476.50) scale(1.0,1.19)" font-size="17" font-weight="normal" text-anchor="start" fill="#000" ><tspan>CH</tspan><tspan dy="4.42" font-size="12.24">3</tspan><tspan dy="-4.42">CHO</tspan></text>
<text transform="translate(158.60,476.50) scale(1.0,1.19)" font-size="17" font-weight="normal" text-anchor="start" fill="#000" ><tspan>CH</tspan><tspan dy="4.42" font-size="12.24">3</tspan><tspan dy="-4.42">ĊO</tspan></text>
<text transform="translate(257.20,476.50) scale(1.0,1.19)" font-size="17" font-weight="normal" text-anchor="start" fill="#000" ><tspan>ĊH</tspan><tspan dy="4.42" font-size="12.24">3</tspan></text>
<text transform="translate(334.00,476.50) scale(1.0,1.19)" font-size="17" font-weight="normal" text-anchor="start" fill="#000" ><tspan>CH</tspan><tspan dy="4.42" font-size="12.24">3</tspan><tspan dy="-4.42">Ȯ</tspan><tspan dy="4.42" font-size="12.24">2</tspan></text>
<text transform="translate(434.70,434.40) scale(1.0,1.13)" font-size="17.4" font-weight="bold" text-anchor="start" fill="#000" ><tspan>CH</tspan><tspan dy="3.48" font-size="12.53">2</tspan><tspan dy="-3.48">O</tspan></text>
<text transform="translate(434.70,476.60) scale(1.0,1.15)" font-size="17" font-weight="bold" text-anchor="start" fill="#000" ><tspan>CH</tspan><tspan dy="4.76" font-size="12.24">3</tspan><tspan dy="-4.76">O</tspan><tspan dy="4.76" font-size="12.24">2</tspan><tspan dy="-4.76">H</tspan></text>
<text transform="translate(255.40,525.00) scale(1.0,1.19)" font-size="17" font-weight="normal" text-anchor="start" fill="#000" ><tspan>CH</tspan><tspan dy="4.42" font-size="12.24">3</tspan><tspan dy="-4.42">C(O)Ȯ</tspan><tspan dy="4.42" font-size="12.24">2</tspan></text>
<text transform="translate(388.20,524.40) scale(1.0,1.19)" font-size="17" font-weight="normal" text-anchor="start" fill="#000" ><tspan>CH</tspan><tspan dy="4.42" font-size="12.24">3</tspan><tspan dy="-4.42">C(O)O</tspan><tspan dy="4.42" font-size="12.24">4</tspan><tspan dy="-4.42">H</tspan></text>
<text transform="translate(525.30,524.40) scale(1.0,1.15)" font-size="17" font-weight="bold" text-anchor="start" fill="#000" ><tspan>CH</tspan><tspan dy="4.76" font-size="12.24">3</tspan><tspan dy="-4.76">C(O)OH</tspan></text>
<line x1="115.30" y1="470.20" x2="153.00" y2="470.20" stroke="#333" stroke-width="1.8" />
<path d="M146.50,465.70 L153.50,470.20 L146.50,474.70" fill="none" stroke="#333" stroke-width="1.8"/>
<line x1="218.60" y1="470.00" x2="251.40" y2="470.00" stroke="#333" stroke-width="1.8" />
<path d="M244.90,465.50 L251.90,470.00 L244.90,474.50" fill="none" stroke="#333" stroke-width="1.8"/>
<line x1="291.30" y1="470.00" x2="328.40" y2="470.00" stroke="#333" stroke-width="1.8" />
<path d="M321.90,465.50 L328.90,470.00 L321.90,474.50" fill="none" stroke="#333" stroke-width="1.8"/>
<line x1="389.60" y1="469.60" x2="427.10" y2="469.60" stroke="#333" stroke-width="1.8" />
<path d="M420.60,465.10 L427.60,469.60 L420.60,474.10" fill="none" stroke="#333" stroke-width="1.8"/>
<line x1="341.10" y1="516.00" x2="379.40" y2="516.00" stroke="#333" stroke-width="1.8" />
<path d="M372.90,511.50 L379.90,516.00 L372.90,520.50" fill="none" stroke="#333" stroke-width="1.8"/>
<line x1="489.00" y1="517.50" x2="519.00" y2="517.50" stroke="#333" stroke-width="1.8" />
<path d="M512.50,513.00 L519.50,517.50 L512.50,522.00" fill="none" stroke="#333" stroke-width="1.8"/>
<line x1="388.80" y1="453.50" x2="426.50" y2="430.80" stroke="#333" stroke-width="1.8" />
<line x1="426.50" y1="430.80" x2="422.81" y2="437.90" stroke="#333" stroke-width="1.8"/>
<line x1="426.50" y1="430.80" x2="418.50" y2="430.74" stroke="#333" stroke-width="1.8"/>
<line x1="213.90" y1="488.20" x2="248.60" y2="514.30" stroke="#333" stroke-width="1.8" />
<line x1="248.60" y1="514.30" x2="240.64" y2="513.54" stroke="#333" stroke-width="1.8"/>
<line x1="248.60" y1="514.30" x2="245.66" y2="506.86" stroke="#333" stroke-width="1.8"/>
<text transform="translate(122.70,464.50) scale(1.0,1.15)" font-size="13" font-weight="normal" text-anchor="start" fill="#000" ><tspan>+Ö</tspan></text>
<text transform="translate(119.60,487.60) scale(1.0,1.15)" font-size="13" font-weight="normal" text-anchor="start" fill="#000" ><tspan>-ȮH</tspan></text>
<text transform="translate(221.70,464.50) scale(1.0,1.15)" font-size="13" font-weight="normal" text-anchor="start" fill="#000" ><tspan>-CO</tspan></text>
<text transform="translate(295.20,464.40) scale(1.0,1.15)" font-size="13" font-weight="normal" text-anchor="start" fill="#000" ><tspan>+O</tspan><tspan dy="2.60" font-size="9.36">2</tspan></text>
<text transform="translate(363.80,433.80) scale(1.0,1.15)" font-size="13" font-weight="normal" text-anchor="start" fill="#000" ><tspan>+CH</tspan><tspan dy="2.60" font-size="9.36">3</tspan><tspan dy="-2.60">Ȯ</tspan><tspan dy="2.60" font-size="9.36">2</tspan></text>
<text transform="translate(394.20,487.30) scale(1.0,1.15)" font-size="13" font-weight="normal" text-anchor="start" fill="#000" ><tspan>+HȮ</tspan><tspan dy="2.60" font-size="9.36">2</tspan></text>
<text transform="translate(210.40,516.30) scale(1.0,1.15)" font-size="13" font-weight="normal" text-anchor="start" fill="#000" ><tspan>+O</tspan><tspan dy="2.60" font-size="9.36">2</tspan></text>
<text transform="translate(340.90,510.10) scale(1.0,1.15)" font-size="13" font-weight="normal" text-anchor="start" fill="#000" ><tspan>+HȮ</tspan><tspan dy="2.60" font-size="9.36">2</tspan></text>
<text transform="translate(498.40,434.40) scale(1.0,1.13)" font-size="17" font-weight="bold" text-anchor="start" fill="#000" ><tspan>CH</tspan><tspan dy="3.74" font-size="12.24">3</tspan><tspan dy="-3.74">OH</tspan></text>
<text transform="translate(489.30,434.40) scale(1.0,1.12)" font-size="18.5" font-weight="normal" text-anchor="middle" fill="#444" ><tspan>+</tspan></text>
<text transform="translate(566.40,434.40) scale(1.0,1.12)" font-size="18.5" font-weight="normal" text-anchor="middle" fill="#444" ><tspan>+</tspan></text>
<text transform="translate(507.90,476.60) scale(1.0,1.12)" font-size="18.5" font-weight="normal" text-anchor="middle" fill="#444" ><tspan>+</tspan></text>
<text transform="translate(634.90,524.40) scale(1.0,1.12)" font-size="18.5" font-weight="normal" text-anchor="middle" fill="#444" ><tspan>+</tspan></text>
<text transform="translate(575.40,434.40) scale(1.0,1.13)" font-size="17.6" font-weight="normal" text-anchor="start" fill="#000" ><tspan>O</tspan><tspan dy="3.87" font-size="12.67">2</tspan></text>
<text transform="translate(517.30,476.60) scale(1.0,1.13)" font-size="17.6" font-weight="normal" text-anchor="start" fill="#000" ><tspan>O</tspan><tspan dy="4.22" font-size="12.67">2</tspan></text>
<text transform="translate(648.70,524.40) scale(1.0,1.15)" font-size="17" font-weight="normal" text-anchor="start" fill="#000" ><tspan>O</tspan><tspan dy="4.76" font-size="12.24">3</tspan></text></svg>
</body></html>
